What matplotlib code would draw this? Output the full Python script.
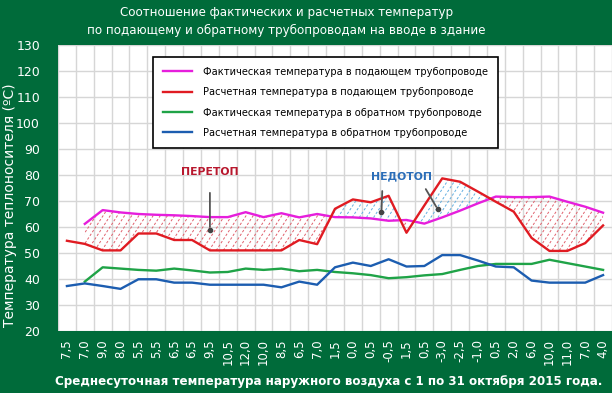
import numpy as np
import matplotlib
matplotlib.use("Agg")
import matplotlib.pyplot as plt
from matplotlib.patches import PathPatch

# ---------------- data ----------------
outdoor_labels = ["7,5", "7,0", "9,0", "8,0", "5,5", "5,5", "6,5", "6,5", "9,5", "10,5",
                  "12,0", "10,0", "8,5", "6,5", "7,0", "1,5", "0,0", "0,5", "-0,5", "1,5",
                  "0,5", "-3,0", "-2,5", "-1,0", "0,5", "2,0", "6,0", "10,0", "11,0", "7,0", "4,0"]

# fact supply (first day missing)
fact_supply = [np.nan, 61.2, 66.5, 65.6, 65.0, 64.7, 64.5, 64.2, 63.8, 63.8,
               65.7, 63.8, 65.3, 63.7, 65.0, 63.8, 63.7, 63.3, 62.4, 62.7,
               61.3, 63.7, 66.3, 69.1, 71.7, 71.5, 71.5, 71.7, 69.7, 67.8, 65.5]
calc_supply = [54.7, 53.5, 51.0, 51.0, 57.5, 57.5, 55.0, 55.0, 51.0, 51.0,
               51.0, 51.0, 51.0, 55.0, 53.4, 67.0, 70.6, 69.5, 72.0, 57.8,
               68.3, 78.7, 77.4, 73.6, 69.7, 65.9, 55.8, 50.8, 50.8, 53.8, 60.6]
fact_return = [np.nan, 39.0, 44.5, 44.0, 43.5, 43.2, 44.0, 43.3, 42.5, 42.7,
               44.0, 43.5, 44.0, 43.0, 43.5, 42.7, 42.2, 41.5, 40.3, 40.7,
               41.4, 41.9, 43.5, 45.0, 45.8, 45.8, 45.8, 47.4, 46.1, 44.8, 43.5]
calc_return = [37.3, 38.3, 37.3, 36.2, 39.9, 39.9, 38.6, 38.6, 37.8, 37.8,
               37.8, 37.8, 36.8, 39.0, 37.8, 44.5, 46.3, 45.0, 47.6, 44.8,
               45.0, 49.2, 49.2, 47.1, 44.8, 44.5, 39.4, 38.6, 38.6, 38.6, 41.5]

BG = "#006B3A"
C_FS = "#E61EDC"
C_CS = "#E01B22"
C_FR = "#1FA347"
C_CR = "#1C5DB0"

x = np.arange(len(outdoor_labels))
fs = np.array(fact_supply)
cs = np.array(calc_supply)

fig = plt.figure(figsize=(6.12, 3.93), dpi=100)
fig.set_facecolor(BG)
ax = fig.add_axes([58 / 612, 1 - 331 / 393, 554 / 612, 286 / 393])
ax.set_facecolor("white")

ax.set_xlim(-0.5, len(x) - 0.5)
ax.set_ylim(20, 130)
ax.set_yticks(np.arange(20, 131, 10))
ax.set_xticks(x, outdoor_labels, rotation=90)
ax.set_xticks(np.arange(-0.5, len(x), 1), minor=True)
ax.grid(which="minor", axis="x", color="#D6D6D6", lw=1)
ax.grid(which="major", axis="y", color="#D6D6D6", lw=1)
ax.set_axisbelow(True)
for s in ax.spines.values():
    s.set_visible(False)
ax.tick_params(which="both", length=0)
ax.tick_params(axis="y", colors="white", labelsize=9, pad=13)
ax.tick_params(axis="x", colors="white", labelsize=8.5, pad=6)


# Dashed diagonal hatching clipped to the area between two curves
def dashed_hatch(ax, where, color):
    poly = ax.fill_between(x, fs, cs, where=where, interpolate=True,
                           facecolor="none", edgecolor="none")
    for p in poly.get_paths():
        patch = PathPatch(p, transform=ax.transData, facecolor="none", edgecolor="none")
        ax.add_patch(patch)
        for x0 in np.arange(-15, 32, 0.4):
            ln, = ax.plot([x0, x0 + 110 / 10.5], [20, 130], color=color, lw=0.7,
                          ls=(0, (2.5, 2)), zorder=2)
            ln.set_clip_path(patch)


dashed_hatch(ax, fs >= cs, "#E0606C")
dashed_hatch(ax, fs < cs, "#62AEE0")

ax.plot(x, fact_supply, color=C_FS, lw=1.7, zorder=4,
        label="Фактическая температура в подающем трубопроводе")
ax.plot(x, calc_supply, color=C_CS, lw=1.7, zorder=4,
        label="Расчетная температура в подающем трубопроводе")
ax.plot(x, fact_return, color=C_FR, lw=1.7, zorder=4,
        label="Фактическая температура в обратном трубопроводе")
ax.plot(x, calc_return, color=C_CR, lw=1.7, zorder=4,
        label="Расчетная температура в обратном трубопроводе")

leg = ax.legend(loc="upper left", bbox_to_anchor=(0.1715, 0.958), borderaxespad=0,
                fontsize=7.1, frameon=True, fancybox=False, framealpha=1,
                edgecolor="black", handlelength=3.0, handletextpad=1.1,
                borderpad=1.0, labelspacing=1.05)
leg.get_frame().set_linewidth(1.2)
leg.set_zorder(6)

# annotations
arrow = dict(arrowstyle="-", color="#555555", lw=1.3)
ax.text(8.0, 81.2, "ПЕРЕТОП", color="#B8182E", fontsize=7.8, fontweight="bold",
        ha="center", va="center", zorder=7)
ax.annotate("", xy=(8.0, 59), xytext=(8.0, 74.2), arrowprops=arrow, zorder=7)
ax.plot(8.0, 59, "o", color="#444444", ms=3, zorder=7)

ax.text(18.7, 79.6, "НЕДОТОП", color="#2A6DB8", fontsize=7.8, fontweight="bold",
        ha="center", va="center", zorder=7)
ax.annotate("", xy=(17.6, 65.7), xytext=(17.65, 74.9), arrowprops=arrow, zorder=7)
ax.plot(17.6, 65.7, "o", color="#444444", ms=3, zorder=7)
ax.annotate("", xy=(20.75, 66.8), xytext=(20.0, 75.5), arrowprops=arrow, zorder=7)
ax.plot(20.75, 66.8, "o", color="#444444", ms=3, zorder=7)

# titles
fig.text(0.468, 0.968, "Соотношение фактических и расчетных температур",
         color="white", fontsize=8.6, ha="center", va="center")
fig.text(0.468, 0.922, "по подающему и обратному трубопроводам на вводе в здание",
         color="white", fontsize=8.6, ha="center", va="center")
fig.text(0.016, 0.478, "Температура теплоносителя (ºС)", color="white", fontsize=10,
         rotation=90, ha="center", va="center")
fig.text(0.537, 0.03, "Среднесуточная температура наружного воздуха с 1 по 31 октября 2015 года.",
         color="white", fontsize=8.6, fontweight="bold", ha="center", va="center")

fig.savefig("out.png", dpi=100, facecolor=BG)
